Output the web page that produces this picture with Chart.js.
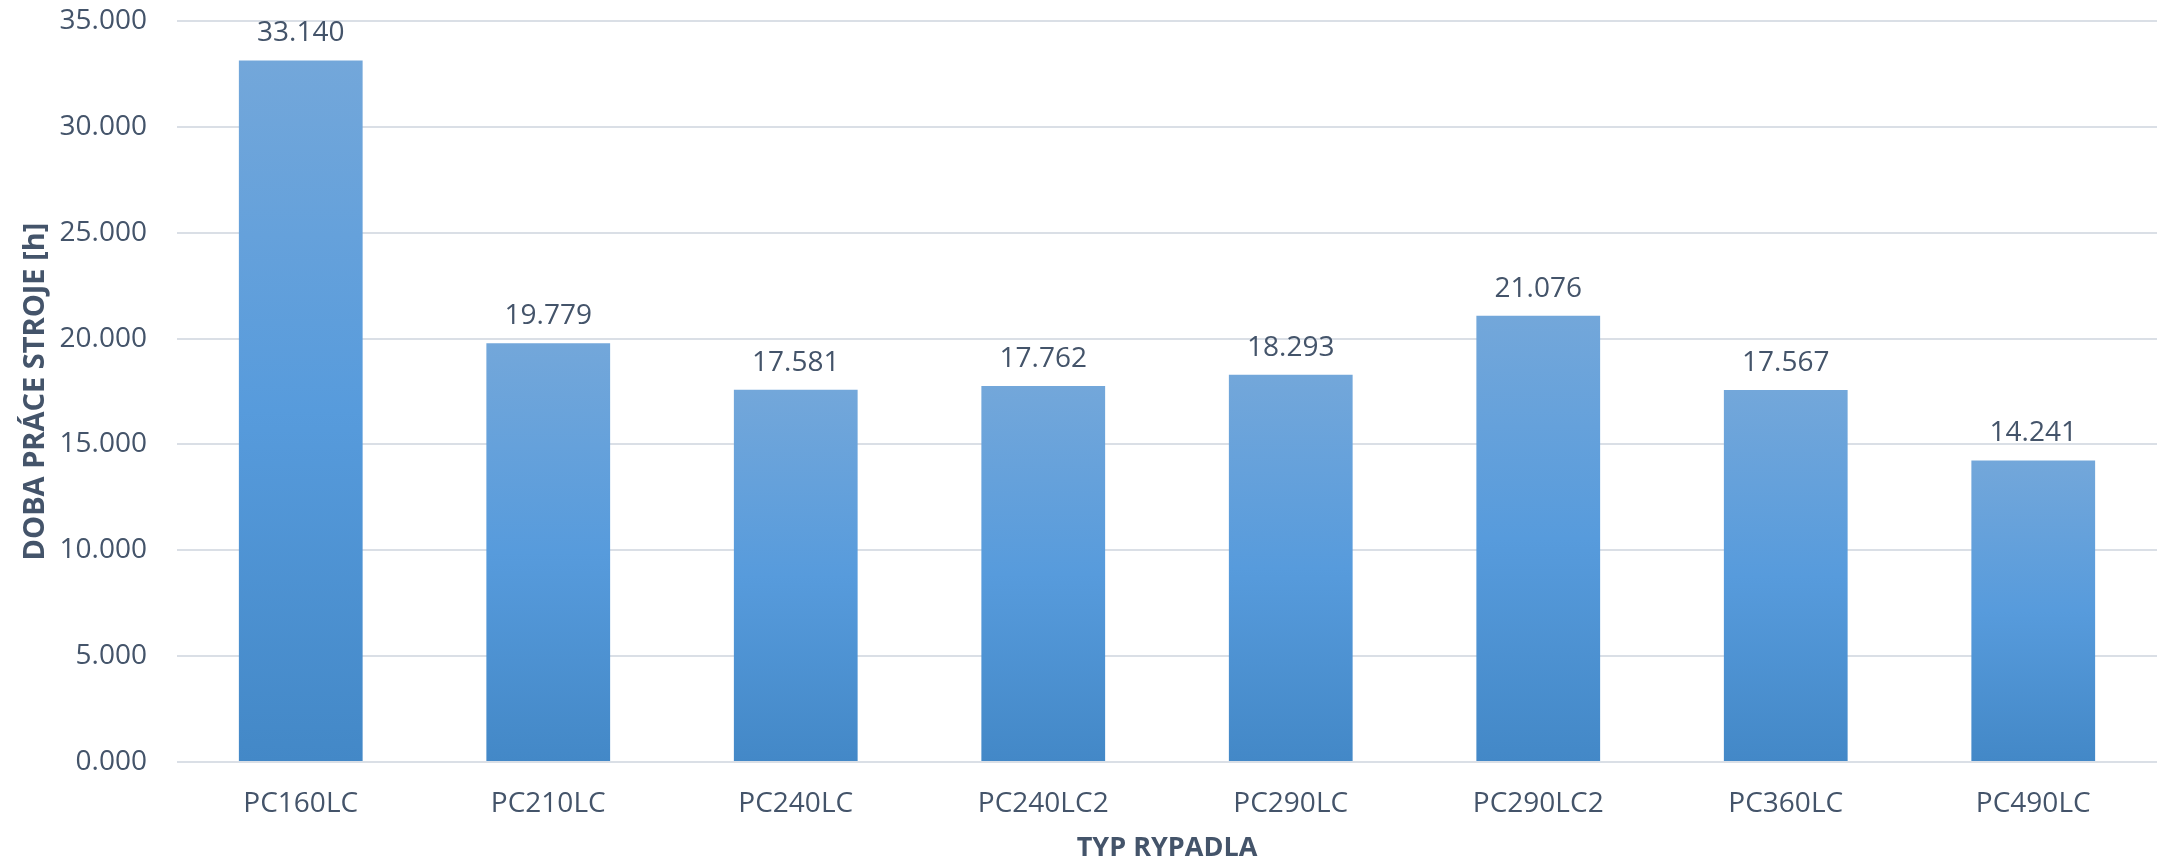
<!DOCTYPE html>
<html>
<head>
<meta charset="utf-8">
<title>Doba práce stroje</title>
<script src="https://cdn.jsdelivr.net/npm/chart.js@4/dist/chart.umd.min.js"></script>
<style>
  html, body { margin: 0; padding: 0; background: #fff; }
  #wrap { width: 2163px; height: 865px; }
</style>
</head>
<body>
<div id="wrap"><canvas id="chart"></canvas></div>
<script>
// data
const categories = ['PC160LC', 'PC210LC', 'PC240LC', 'PC240LC2', 'PC290LC', 'PC290LC2', 'PC360LC', 'PC490LC'];
const hours = [33.140, 19.779, 17.581, 17.762, 18.293, 21.076, 17.567, 14.241];
const yMax = 35;
const yStep = 5;

const textColor = '#44546A';
const fontName = "'Open Sans', sans-serif";

// per-bar vertical gradient (light top -> darker bottom)
function barFill(ctx) {
  const chart = ctx.chart;
  if (!chart.chartArea || !chart.scales.y) return '#5B9BD5';
  const yScale = chart.scales.y;
  const top = yScale.getPixelForValue(ctx.raw);
  const base = yScale.getPixelForValue(0);
  if (!isFinite(top) || !isFinite(base) || top === base) return '#5B9BD5';
  const g = chart.ctx.createLinearGradient(0, top, 0, base);
  g.addColorStop(0, '#73A7DA');
  g.addColorStop(0.5, '#579BDC');
  g.addColorStop(1, '#4388C7');
  return g;
}

// value labels above bars
const valueLabels = {
  id: 'valueLabels',
  afterDatasetsDraw(chart) {
    const c = chart.ctx;
    const meta = chart.getDatasetMeta(0);
    c.save();
    c.font = '28px ' + fontName;
    c.fillStyle = textColor;
    c.textAlign = 'center';
    c.textBaseline = 'alphabetic';
    meta.data.forEach((bar, i) => {
      c.fillText(hours[i].toFixed(3), bar.x, bar.y - 19);
    });
    c.restore();
  }
};

new Chart(document.getElementById('chart'), {
  type: 'bar',
  data: {
    labels: categories,
    datasets: [{
      data: hours,
      backgroundColor: barFill,
      borderWidth: 0,
      categoryPercentage: 1.0,
      barPercentage: 0.5
    }]
  },
  options: {
    responsive: true,
    maintainAspectRatio: false,
    animation: false,
    layout: { padding: { left: 0, right: 6, top: 21, bottom: 0 } },
    plugins: {
      legend: { display: false },
      tooltip: { enabled: false }
    },
    scales: {
      x: {
        grid: { display: false, drawTicks: false },
        border: { display: false },
        ticks: {
          color: textColor,
          font: { family: fontName, size: 28 },
          padding: 25,
          maxRotation: 0
        },
        title: {
          display: true,
          text: 'TYP RYPADLA',
          color: textColor,
          font: { family: fontName, size: 27, weight: 'bold' },
          padding: { top: 0, bottom: 0 }
        },
        afterFit(scale) {
          scale.height = 103;
          scale.paddingLeft = 0;
          scale.paddingRight = 0;
        }
      },
      y: {
        min: 0,
        max: yMax,
        grid: { color: '#DADFE6', lineWidth: 2, drawTicks: false },
        border: { display: false },
        ticks: {
          stepSize: yStep,
          color: textColor,
          font: { family: fontName, size: 28 },
          padding: 30,
          callback: v => Number(v).toFixed(3)
        },
        title: {
          display: true,
          text: 'DOBA PRÁCE STROJE [h]',
          color: textColor,
          font: { family: fontName, size: 29, weight: 'bold' },
          padding: { top: 18, bottom: 0 }
        },
        afterFit(scale) {
          scale.width = 177;
          scale.paddingTop = 0;
          scale.paddingBottom = 0;
        }
      }
    }
  },
  plugins: [valueLabels]
});
</script>
</body>
</html>
